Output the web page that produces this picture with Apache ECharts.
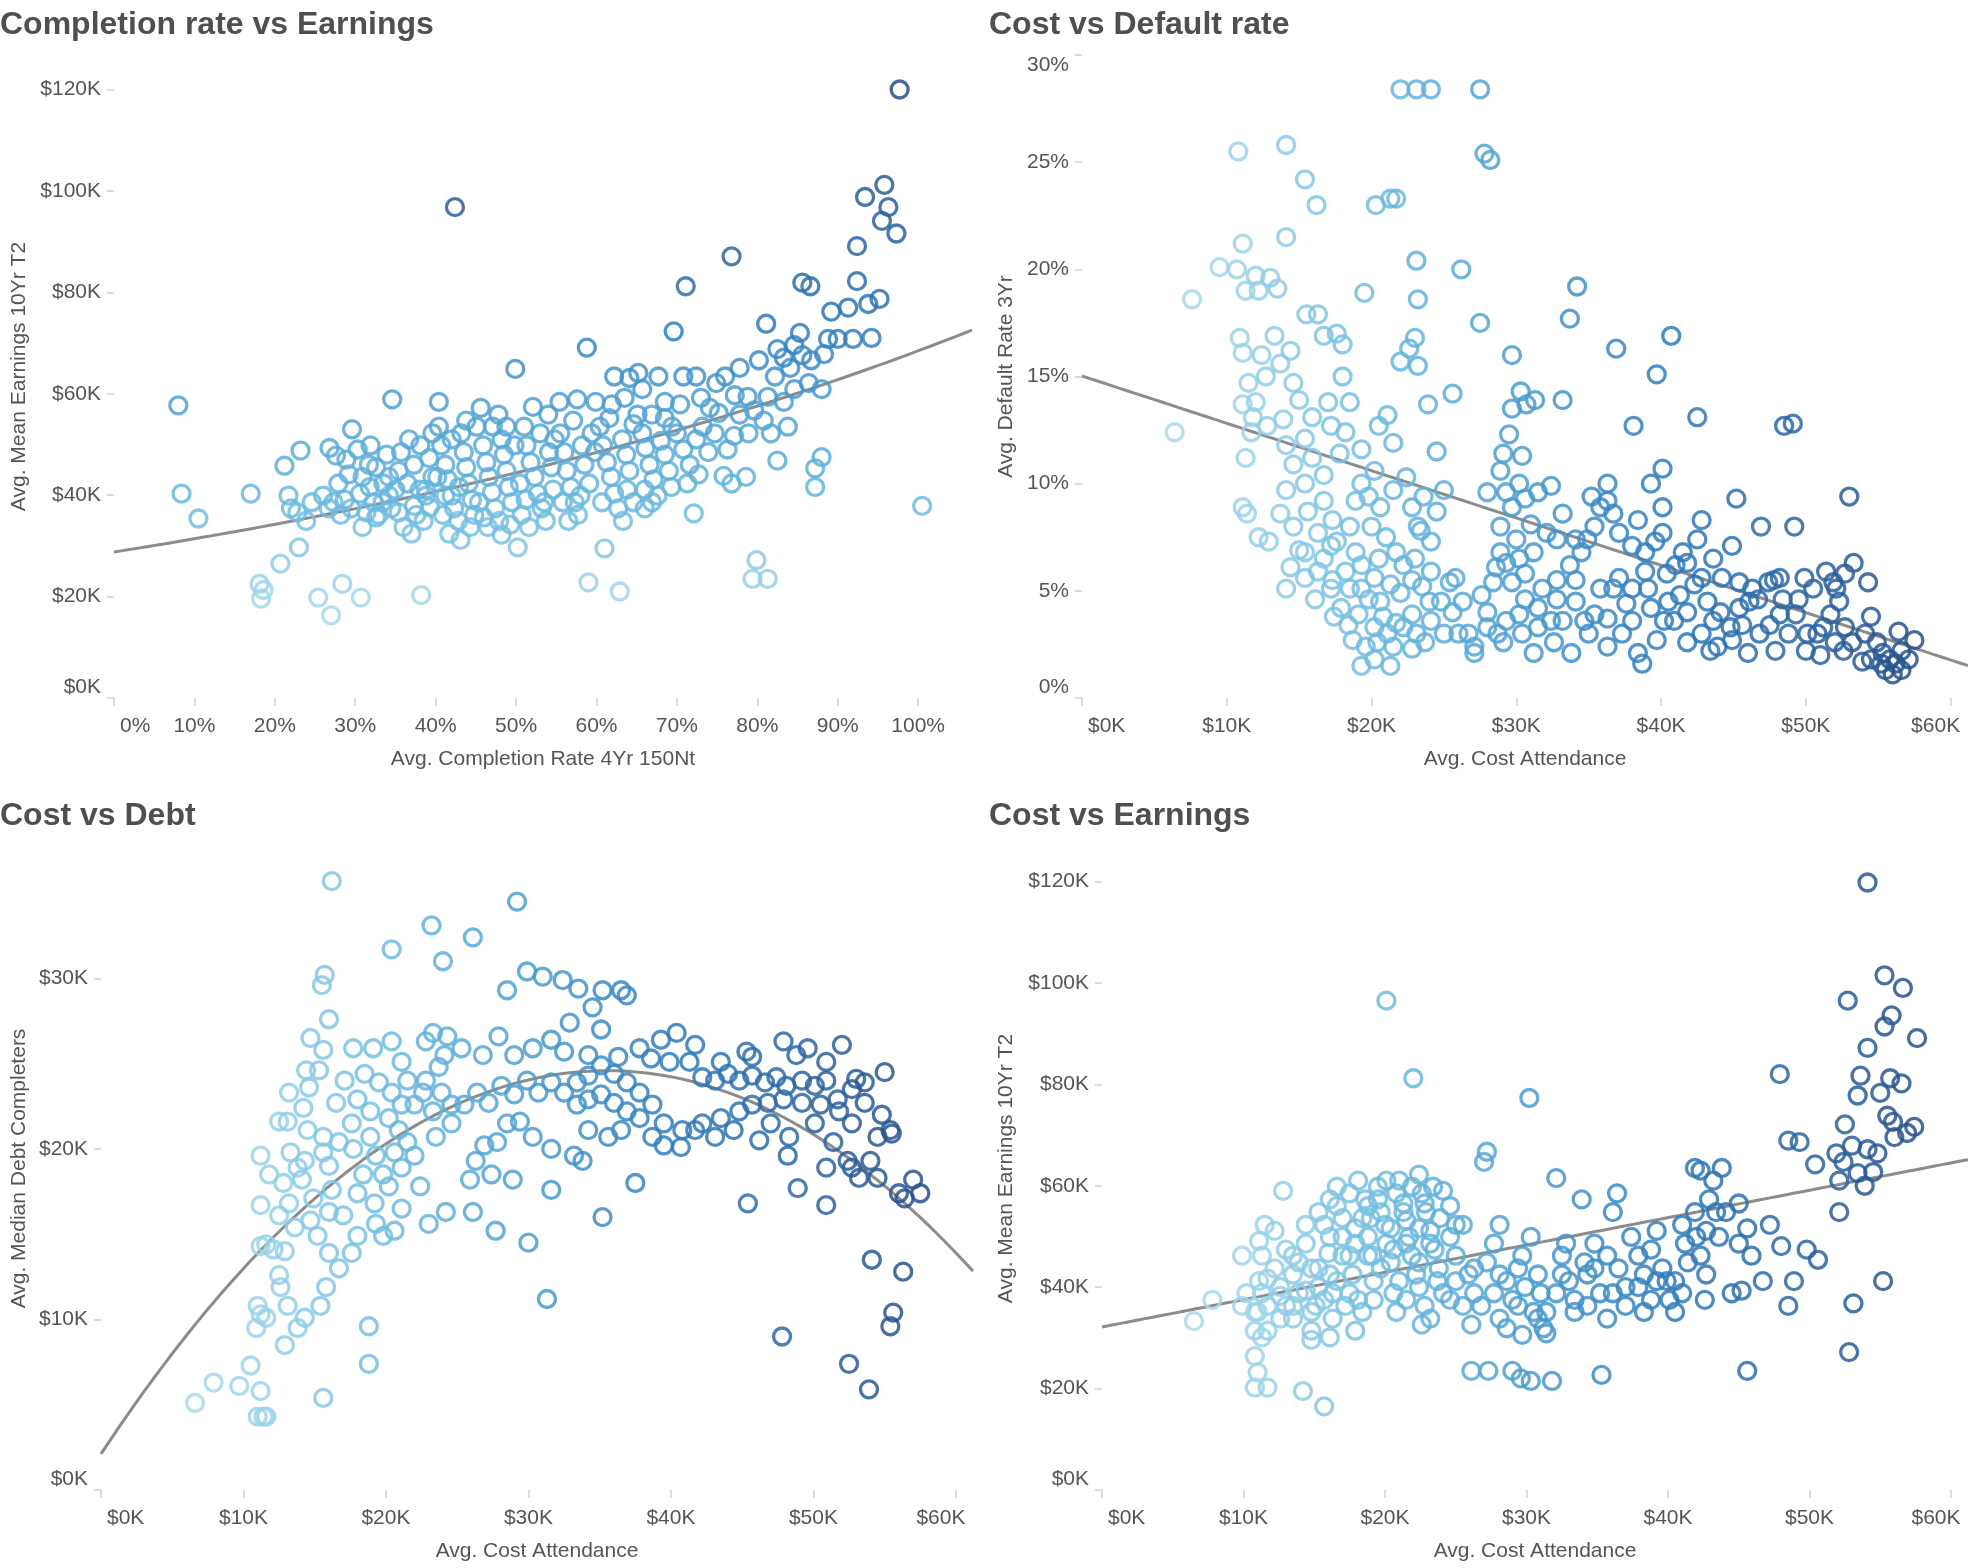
<!DOCTYPE html>
<html>
<head>
<meta charset="utf-8">
<title>Completion, cost, default, debt and earnings</title>
<script src="https://cdn.jsdelivr.net/npm/echarts@6/dist/echarts.min.js"></script>
<style>
  html, body { margin: 0; padding: 0; background: #fff; }
  #chart { width: 1968px; height: 1568px; }
</style>
</head>
<body>
<div id="chart"></div>
<script>
// values; units are % and $K

// [completion rate %, mean earnings $K]
const completionVsEarnings = [
  [8,57.7],[8.4,40.3],[10.5,35.4],
  [17,40.3],[18.1,22.5],[18.6,21.3],[18.3,19.6],
  [20.7,26.5],[21.2,45.8],[21.7,39.9],[22.8,36.6],[23.2,48.8],[23.9,34.9],[23,29.7],[22,37.4],[24.6,38.6],
  [25.4,19.8],[27,16.3],[28.4,22.5],[26.8,49.3],[27.6,47.8],[26,39.9],[26.7,37.4],[27.9,42.3],[28.7,39.1],[29.2,44.1],[29.6,53],[27.3,38.6],[29.5,37.4],[28.9,47],[28.2,36.1],
  [30.7,19.8],[34.6,58.9],[30.6,40.3],[30.9,43.6],[31.4,36.6],[31.8,41.6],[32.3,38.6],[32.6,45.5],[32.9,36.1],[33.5,42.3],[33.9,48],[34.2,39.9],[30.3,49],[31.9,49.8],[34.5,37.4],[33.4,38.6],[31.7,46],[32.6,35.6],[34.2,43.6],[35,41.1],[30.9,33.7],
  [38.2,20.3],[36.5,42.3],[35.7,48.5],[37.3,46],[38.1,49.8],[38.8,41.1],[39.3,37.6],[38.5,34.9],[35.4,36.6],[36,33.7],[37.3,37.9],[37,32.4],[39.6,43.6],[39.2,47.3],[38,41.1],[36.7,51],[35.4,44.8],[39.6,52.2],[38.8,39.9],[37.6,36.1],
  [40.4,58.4],[42.4,96.8],[43.1,31.2],[40.4,53.5],[40.7,49.8],[41.2,46],[41.5,43.1],[42,39.9],[42.3,37.4],[42.8,34.9],[41.7,32.4],[43.2,52.2],[43.5,48.5],[43.8,45.5],[44.1,42.3],[44.5,39.1],[44.8,36.1],[40.9,36.1],[42.9,41.6],[40.2,43.6],[43.8,54.7],[42,51],[44.3,33.7],[41.2,39.9],
  [48.2,32.2],[49.9,64.9],[45.1,53.5],[45.6,57.2],[45.9,49.8],[46.3,46.5],[46.6,43.6],[47,40.6],[47.4,37.4],[47.9,34.9],[48.2,51],[48.5,48],[48.8,44.8],[49.1,41.6],[49.5,38.6],[45.4,38.6],[46,35.6],[47.1,53.5],[47.8,55.9],[48.8,53.5],[49.8,49.8],[46.5,33.7],[49.3,34.2],
  [50.2,29.7],[51,53.5],[51.3,49.8],[51.8,46.5],[52.3,43.6],[52.7,40.3],[53.2,37.4],[53.7,34.9],[54.1,48.5],[54.4,45.5],[50.5,42.3],[51.2,39.1],[52.1,57.4],[54,55.9],[54.8,51],[53,52.2],[50.7,36.1],[51.6,33.7],[54.6,41.1],[53.5,38.6],
  [55.4,58.4],[57.6,58.9],[59,22.8],[58.8,69.1],[55.5,52.2],[56,48.5],[56.3,44.8],[56.8,41.6],[57.3,38.6],[57.7,36.1],[58.2,49.8],[58.5,46],[59.1,42.3],[59.4,52.2],[55.8,38.6],[57.1,54.7],[58,39.9],[59.8,48.5],[56.5,34.9],
  [59.9,58.4],[61,29.5],[62.9,21],[61.9,57.9],[63.5,59.2],[64.1,63.1],[60.4,53.5],[60.8,49.8],[61.3,46.5],[61.8,43.6],[62.2,40.3],[62.7,37.4],[63.2,51],[63.7,48],[64.1,44.8],[64.6,54],[61.6,55.2],[63.8,41.1],[60.7,38.6],[63.3,34.9],[64.6,38.6],[62.2,63.4],
  [65.1,55.9],[65.2,64.1],[66.9,55.9],[68.5,55.2],[69.6,72.3],[65.7,52.2],[66.1,49.3],[66.6,46],[67.1,43.1],[67.6,39.9],[68,50.7],[68.5,48],[69,44.8],[69.4,53.5],[66,41.1],[65.7,60.9],[67.7,63.4],[69.3,41.6],[66,37.4],[66.9,38.6],[68.5,58.4],
  [71.1,81.2],[72.1,36.4],[70.4,57.9],[70.8,63.4],[72.4,63.4],[73,59.2],[74.1,57.2],[70,52.2],[70.8,49],[71.6,46],[72.4,51],[73.2,53.5],[73.9,48.5],[71.3,42.3],[74.7,52.2],[72.7,44.1],
  [74.9,62.1],[76,63.4],[76.8,87.1],[75.2,56.2],[77.1,51.7],[77.8,65.1],[78.8,59.4],[78.9,52.2],[79.6,56.7],[75.8,43.8],[76.8,42.3],[78.6,43.6],[76.3,49],[77.8,55.9],[79.4,23.5],[79.9,27.2],[77.2,59.7],
  [80.2,66.6],[81.1,73.8],[81.3,23.5],[80.8,54.7],[81.3,59.4],[82.2,63.4],[82.5,68.8],[83.3,67.1],[84.1,65.1],[84.6,69.6],[84.6,60.9],[82.5,46.8],[81.7,52.2],[83.3,58.4],[83.8,53.5],
  [85.6,81.9],[86.6,81.2],[85.6,67.6],[86.7,66.6],[88.3,67.8],[88,47.5],[87.2,45.3],[87.2,41.6],[88.8,70.8],[89.2,76.2],[86.4,62.1],[85.3,72],[88,60.9],
  [90,70.8],[91.9,70.8],[94.2,71],[91.3,77],[93.8,77.7],[95.2,78.7],[92.4,82.2],[92.4,89.1],[93.4,98.8],[95.8,101.2],[96.3,96.8],[95.5,94.1],[97.3,91.6],[97.7,120],[100.5,37.9]
];

// [cost of attendance $K, 3yr default rate %]
const costVsDefault = [
  [22,28.4],[23.1,28.4],[24.1,28.4],[27.5,28.4],
  [27.8,25.4],[28.2,25.1],[10.8,25.5],[14.1,25.8],[15.4,24.2],[16.2,23],[14.1,21.5],[11.1,21.2],
  [20.3,23],[21.3,23.3],[21.7,23.3],[23.1,20.4],[26.2,20],[7.6,18.6],
  [9.5,20.1],[10.7,20],[12,19.7],[13,19.6],[13.5,19.1],[12.2,19],[11.3,19],
  [23.2,18.6],[19.5,18.9],[34.2,19.2],[27.5,17.5],[33.7,17.7],[36.9,16.3],[40.7,16.9],[39.7,15.1],[42.5,13.1],[49.1,12.8],[48.5,12.7],[38.1,12.7],
  [29.7,16],[30.3,14.3],[29.7,13.5],[30.7,13.7],[31.3,13.9],[33.2,13.9],[29.5,12.3],[29.1,11.4],[30.4,11.3],
  [25.6,14.2],[23.9,13.7],[22.6,16.3],[23,16.8],[23.2,15.5],[22,15.7],
  [18,16.5],[17.6,17],[16.7,16.9],[15.5,17.9],[16.3,17.9],
  [10.9,16.8],[11.1,16.1],[12.4,16],[11.5,14.7],[12.7,15],[12,13.8],[11.8,13.1],[11.1,13.7],[11.7,12.4],[12.8,12.7],[11.3,11.2],[11.1,8.9],[11.4,8.6],[12.2,7.5],[12.9,7.3],[6.4,12.4],[13.7,15.6],[13.3,16.9],[14.4,16.2],[14.6,14.7],
  [13.9,13],[15,13.9],[15.9,13.1],[15.4,12.1],[14.1,11.8],[14.6,10.9],[15.9,11.2],[17.2,12.7],[17,13.8],[18,15],[18.5,13.8],[18.2,12.4],[19.3,11.6],[17.8,11.4],[16.7,10.4],[15.4,10],[14.1,9.7],[13.7,8.6],[14.6,8],[15.6,8.7],[16.7,9.2],[17.3,8.3],[16.3,7.7],[15,6.9],[14.4,6.1],[15.4,5.6],[16.7,6.5],[17.6,7.3],[18.5,8],[18.9,9.2],[19.3,10],[20.2,10.6],[19.8,9.4],[20.6,8.9],[21.5,9.7],[20,8],[21,7.5],[18.9,6.8],[18.2,5.9],[17.2,5.1],[16.1,4.6],[17.4,3.8],[18.4,3.4],[19.3,5.1],[20.2,5.6],[19.8,4.6],[20.6,4.5],[21.3,5.3],[22,4.9],[20.8,3.8],[21.7,3.5],[19.6,2.4],[19.3,1.5],[21.3,1.5],[20.4,2.6],[22.8,2.3],[22.8,3.9],[24,4.5],[23.5,5.2],[22.2,6.2],[23,6.5],[24.1,7.3],[23.2,8],[22.8,8.9],[23.6,9.4],[22.4,10.3],[21.5,11.9],[20.5,12.7],[21.1,13.2],[24.5,11.5],[25,9.7],[24.5,8.7],[23.4,7.8],[25.4,5.4],[25.8,5.6],[25.6,4],[26,3],[26.7,3],[27.1,2.4],[28,3.3],[28.7,3],[29.3,3.6],[27.1,2.1],
  [15.4,6.8],[16.3,5.9],[17.3,5.5],[18.5,5.1],[17.9,4.2],[19.1,3.9],[20.2,3.3],[21.1,3],[22.2,3.3],[23.1,3],[24.1,3.6],[24.8,4.5],[25,3],[23.7,2.6],[21.5,2.4],[20.2,1.8],[18.7,2.7],[19.3,6.2],[20.5,6.5],[21.7,6.8],[22.8,5.5],[24.1,5.9],[26.3,4.5],[27.6,4.8],[28.4,5.4],[28,4],[17.2,7.1],[14.1,5.1],
  [28.9,10.6],[28,9.6],[29.3,9.6],[30.2,10],[30.6,9.3],[31.5,9.6],[32.4,9.9],[29.7,8.9],[28.9,8],[30,7.4],[31,8.1],[32.1,7.7],[33.2,8.6],[32.8,7.4],[28.9,6.8],[29.3,6.3],[28.6,6.1],[30.2,6.5],[31.2,6.8],[30.6,5.8],[29.7,5.4],[31.8,5.1],[32.8,5.5],[33.7,6.2],[34.5,6.8],[34.9,7.4],[35.4,8],[35.8,8.9],[35.2,9.4],[36.3,9.2],[36.7,8.6],[37.1,7.7],[38,7.1],[38.9,6.8],[38.4,8.3],[36.3,10],[40.1,8.9],[40.1,10.7],[39.3,10],[34.1,7.4],[32.4,3.6],[31.5,3.3],[30.2,3.9],[30.6,4.6],[33.8,2.1],[34.7,3.6],[35.4,3.9],[36.3,3.7],[35.8,5.1],[36.7,5.1],[37.1,5.6],[37.6,4.4],[38.4,2.1],[38.7,1.6],[39.7,2.7],[39.3,4.2],[40.5,4.5],[41.3,4.8],[41.8,4],[40.9,3.6],[39.1,5.1],[40.4,5.8],[41,6.2],[41.8,6.3],[42.3,5.3],[42.8,5.6],[43.2,4.5],[43.6,3.6],[44.1,4],[44.8,3.3],[45.4,4.2],[45.6,3.4],[44.9,2.7],[43.4,2.2],[41.8,2.6],[46,2.1],[46.8,3],[47.5,3.4],[47.9,2.2],[48.2,3.9],[48.8,3],[50,2.2],[50.8,3],[49.3,3.9],[45.4,5.4],[46.3,5.1],[47.4,5.4],[48.2,5.6],[44.9,7.1],[42.5,7.4],[41.5,6.8],[43.6,6.5],[44.2,5.6],[45.2,9.3],[46.9,8],[42.8,8.3],[40.1,7.7],[38.9,5.9],[39.6,7.3],
  [29.1,2.6],[30.4,3],[31.2,2.1],[32.6,2.6],[33.2,3.6],[34.1,4.5],[35,3],[36.3,2.4],[37.3,3],[38,3.6],[34.1,5.5],[32.8,4.6],[31.5,4.2],[38,5.1],[40.2,3.6],[42.8,3],[43.9,2.4],
  [53,9.4],[51.4,5.9],[51.9,5.4],[52.1,5.1],[52.3,4.5],[52.7,5.8],[53.3,6.3],[54.3,5.4],[51.7,3.9],[52.7,3.3],[52,2.6],[53.2,2.6],[52.6,2.2],[54.5,3.8],[54.1,3],[54.9,2.6],[55.3,2.1],[55.8,1.8],[56.2,1.6],[55.2,1.6],[54.5,1.8],[55.5,1.3],[56,1.1],[56.6,1.3],[57.1,1.8],[56.6,2.2],[57.5,2.7],[56.4,3.1],[53.9,1.7],[51,2],[50.1,3],[51.2,3.3],[49.5,4.6],[48.4,4.6],[50.5,5.1],[49.9,5.6],[49.2,8],[47.8,5.5],[46.7,4.6],[46.1,4.5]
];

// [cost of attendance $K, median debt of completers $K]
const costVsDebt = [
  [16.2,35.7],[29.2,34.5],[23.2,33.1],[26.1,32.4],[24,31],[20.4,31.7],[15.7,30.2],[15.5,29.6],
  [28.5,29.3],[29.9,30.4],[31,30.1],[32.4,29.9],[33.5,29.4],[34.5,28.3],[36.5,29.3],[36.9,29],[35.2,29.3],
  [40.4,26.8],[52,26.1],[45.3,25.7],[48.8,25.5],[55,24.5],[53,24.1],[52.7,23.5],[53.6,22.7],[54.8,22],[55.4,21.1],[55.5,20.9],[54,19.3],[52.4,19.3],[53.2,18.3],[54.5,18.3],[56,17.4],[56.4,17.1],[57.5,17.4],[57,18.2],[50.9,16.7],[48.9,17.7],[48.2,19.6],[46.2,20.5],[45.4,16.8],[54.1,13.5],[56.3,12.8],[55.6,10.4],[55.4,9.6],[52.5,7.4],[53.9,5.9],[47.8,9],[31.3,11.2],[35.2,16],[37.5,18],
  [42.2,24.2],[43.1,24],[44,24.4],[44.8,24],[45.7,24.3],[46.6,23.9],[47.4,24.2],[48.1,23.7],[49.2,24],[50.1,23.7],[50.9,24],[51.7,22.9],[50.5,22.6],[49.2,22.7],[47.9,22.9],[46.8,22.7],[45.7,22.6],[44.8,22.2],[43.5,21.8],[42.2,21.5],[40.8,21.1],[39.5,21.5],[38.7,22.6],[37.8,23.3],[36.9,23.9],[36,24.4],[35.1,24.9],[34.2,24.3],[33.4,23.9],[32.5,23.3],[31.6,23.9],[30.7,23.3],[29.9,24],[29,23.2],[28.1,23.7],[27.2,22.7],[26.4,23.3],[25.5,22.6],[33.4,22.6],[34.2,22.9],[35.1,23.2],[36,22.7],[36.9,22.2],[37.8,21.8],[38.7,20.7],[39.5,20.2],[40.7,20.1],[41.7,21.1],[43.1,20.7],[44.4,21.1],[36.5,21.1],[35.6,20.7],[34.2,21.1],[33.2,19.6],[33.8,19.3],[31.6,20],[30.3,20.7],[29.4,21.6],[28.5,21.5],[27.8,20.4],[26.9,20.2],[26.3,19.3],[25.9,18.2],[27.4,18.5],[28.9,18.2],[27.7,15.2],[26.1,16.3],[31.6,17.6],[30,14.5],[39.9,25.1],[38.6,25.3],[41.3,25.1],[43.5,25.1],[45.7,25.4],[36.3,25.4],[34.2,25.5],[32.5,25.7],[31.6,26.4],[30.3,25.9],[29,25.5],[27.9,26.6],[26.8,25.5],[25.3,25.9],[24.3,26.6],[23.3,26.8],[22.8,26.3],[24.1,25.5],[23.7,24.8],[32.9,27.4],[35.1,27],[37.8,25.9],[39.3,26.4],[41.7,26.1],[47.9,26.3],[49.6,25.9],[50.9,25.1],[53.6,23.9],[51.8,22.2],[52.7,21.5],[54.5,20.7],[50.1,21.5],[48.3,20.7],[47,21.5],[50.9,18.9],[52.7,18.9],[51.4,20.4],
  [6.6,5.1],[7.9,6.3],[9.7,6.1],[10.5,7.3],[11.2,5.8],[11,4.3],[11.4,4.3],[11.6,4.3],[15.6,5.4],[12.9,8.5],[13.8,9.5],[14.3,10.1],[13.1,10.8],[11,10.8],[11.2,10.3],[11.6,10.1],[10.9,9.5],[11.2,14.3],[11.6,14.4],[12.1,14.1],[12.5,12.6],[12.6,11.9],[12.9,14],[15.8,11.9],[15.4,10.8],[16.7,13],[16,13.9],[17.6,13.9],[18,14.9],[18.8,9.6],[18.8,7.4],[12.8,18],[13.2,16.8],[14.1,18.2],[13.8,18.9],[13.3,19.8],[13.1,21.6],[14.2,22.4],[14.4,24.6],[15.3,24.6],[15.6,25.8],[14.6,23.6],[15.6,20.7],[15.6,19.8],[16,19],[16.2,17.6],[16,16.3],[17,16.1],[14.9,17.1],[14.7,15.8],[16.5,22.7],[17.1,24],[17.7,25.9],[18.5,24.4],[18,22.9],[18.9,22.2],[17.6,21.5],[16.7,20.4],[17.7,20],[18.9,20.7],[19.3,19.6],[19.8,18.5],[20.2,17.8],[18.4,18.5],[18,17.4],[19.2,16.8],[19.3,15.6],[19.5,23.9],[20.4,23.3],[20.2,21.8],[21.1,22.6],[20.9,21.1],[21.5,20.4],[20.6,19.8],[21.1,18.9],[22,19.6],[21.5,24],[22,22.6],[22.6,23.3],[23.3,22.2],[22.8,24],[23.9,23.3],[24.6,22.6],[23.5,20.7],[24.6,21.5],[22.4,17.8],[23,15.6],[24.2,16.3],[20.6,15.2],[19.8,14.9],[21.1,16.5],[11.2,19.6],[11.8,18.5],[11.2,16.7],[12.5,21.6],[13.2,23.3],[14.5,21.1],[14.3,19.3],[12.5,16.1],[15.2,14.9],[13.6,15.4],
  [19.1,25.9],[20.4,26.3],[21.1,25.1],[14.7,26.5],[16,27.6]
];

// [cost of attendance $K, mean earnings $K]
const costVsEarnings = [
  [54.1,119.8],[52.7,96.5],[20.1,96.5],[22,81.2],[30.2,77.3],
  [55.3,101.5],[56.6,99],[55.8,93.6],[55.3,91.4],[57.6,89.1],[54.1,87.2],[53.6,81.7],[55.7,81.2],[56.5,80.2],[53.4,77.8],[55,78.3],[47.9,82],[48.5,68.9],[49.3,68.6],[50.4,64.2],[52.5,72.1],[53,67.9],[51.9,66.4],[52.4,64.7],[54.1,67.2],[54.8,66.4],[55.9,72.6],[56,69.6],[56.9,70.4],[57.4,71.6],[55.5,73.8],[52.1,61],[53.4,62.5],[54.5,62.7],[53.9,60],[52.1,54.8],[53.1,36.8],[52.8,27.2],[55.2,41.2],[48.5,36.3],[50.6,45.4],[49.8,47.4],[48,48.1],[48.9,41.2],[46.7,41.2],[45.6,23.5],[45.2,39.3],[45.9,46.2],[47.2,52.3],[45.6,51.6],[45,48.6],[44.1,54.8],[45,56.5],[43.6,49.9],[43.2,61],[42.3,63],
  [10.8,35.1],[11.3,38.8],[11.7,36.3],[11.1,41.2],[11.3,46.2],[11.1,49.1],[10.8,26.4],[11,23.2],[10.8,20.2],[11.7,20.2],[9.9,36.3],[7.8,37.5],[6.5,33.3],[14.2,19.5],[15.7,16.5],[12.8,59],[11.5,52.3],[12.2,43.7],[12.6,40],[13,36.3],[13.5,46.2],[13.5,42.5],[13.9,38.8],[14.4,48.6],[14.8,43.7],[15.3,40],[15.1,36.3],[16,46.7],[16.1,42.5],[16.3,38.8],[15.7,52.3],[16.6,56],[17,49.9],[17.5,46.2],[17.7,42.5],[17.2,36.3],[16.1,30.1],[16.3,33.8],[17.9,31.4],[18.1,37.5],[18.4,53.6],[18.6,57.3],[18.8,49.9],[19.1,46.2],[19.2,41.2],[19.5,59.8],[19.7,54.8],[20,52.3],[20.1,48.6],[20.4,44.9],[20.6,38.8],[20.8,35.1],[21,61],[21.3,56.5],[21.5,53.1],[21.7,49.9],[21.9,46.2],[22.2,42.5],[22.4,62.2],[22.6,58.5],[22.9,54.8],[23.2,51.1],[23.5,47.4],[23.8,43.7],[22.8,36.3],[22.6,32.6],[23.2,33.8],[24.1,38.8],[24.1,59],[24.6,49.9],[25,46.2],[25.5,52.3],[25.9,42.5],[26.3,38.8],[26.1,32.6],[26.8,36.3],[27,64.7],[27.2,66.7],[27.2,44.9],[27.7,48.6],[28.1,52.3],[28.6,41.2],[28.1,33.8],[29,37.5],[29.4,43.7],[29.7,46.2],[29.9,40],[30.3,49.9],[30.8,42.5],[31,38.8],[31.2,31.9],[30.5,35.1],[32.1,61.5],[32.5,46.2],[32.8,48.6],[33,41.2],[33.4,37.5],[33.9,57.3],[34.1,44.9],[34.3,42.5],[34.8,48.6],[35.2,38.8],[35.3,22.7],[35.7,46.2],[36.1,54.8],[36.4,58.5],[36.5,43.7],[37,40],[37.4,49.9],[37.9,46.2],[38.3,42.5],[38.8,47.4],[39.2,51.1],[39.6,43.7],[39.9,41.2],[40.1,37.5],[40.5,35.1],[41,52.3],[41.2,48.6],[41.4,44.9],[41.9,54.8],[42,49.9],[42.3,46.2],[42.7,51.1],[42.9,57.3],[43.4,54.8],[43.8,63.5],[41.9,63.5],[42.7,42.5],[29,23.5],[29.6,22],[30.3,21.5],[31.8,21.5],[26.1,23.5],[27.3,23.5],[28.6,31.9],[29.7,30.6],[31.4,35.1],[9.9,46.2],[10.8,31.4],[11.7,31.4],[13.5,33.8],[14.8,31.4],[14.8,29.6],[44.5,38.8],[42.6,37.5],
  [11.7,41.7],[12.6,38.3],[13.5,36.3],[14.4,39.3],[14.8,35.1],[15.7,37.5],[15.3,43.7],[12.6,33.8],[11.3,30.1],[16.6,41.2],[17.5,38.8],[18.4,35.1],[19.2,37.5],[19.7,43.7],[21,41.2],[21.5,37.5],[22.4,40],[23.7,41.2],[24.6,37.5],[25.5,36.3],[25,41.2],[26.3,43.7],[27.7,38.8],[28.1,42.5],[29.4,36.3],[30.8,33.8],[32.1,38.8],[32.5,42.5],[33.4,35.1],[34.3,36.3],[34.8,43.7],[36.1,38.8],[37,36.3],[37.9,40],[38.8,37.5],[39.2,41.2],[40.5,41.2],[41,38.8],[38.3,35.1],[35.7,33.8],[31.4,30.9],[18.8,46.2],[17,46.2],[17.9,48.6],[20.6,47.4],[22.4,44.9],[23.2,48.6],[16.1,49.9],[13.9,44.9],[13,47.4],[12.2,51.1],[10.2,38.8],[11,35.1],
  [16.6,59.8],[17.5,58.5],[18.1,61],[18.8,56],[19.5,57.3],[20.1,61],[20.8,58.5],[21.3,54.8],[21.9,59.8],[22.8,56.5],[23.4,59.8],[23.9,53.6],[17,53.6],[17.9,51.6],[19,53.6],[20.4,51.6],[21.5,48.6],[22.4,51.6],[16.1,57.3],[15.3,54.8],[14.4,52.3],[24.6,56],[25,52.3]
];

// tick values
const earningsTicks = [0, 20, 40, 60, 80, 100, 120];
const completionTicks = [0, 10, 20, 30, 40, 50, 60, 70, 80, 90, 100];
const defaultTicks = [0, 5, 10, 15, 20, 25, 30];
const costTicks = [0, 10, 20, 30, 40, 50, 60];
const debtTicks = [0, 10, 20, 30];

const FONT = '"Liberation Sans", Arial, Helvetica, sans-serif';
const TEXT = '#555555';
const TICK = '#d0d0d0';

// colour ramp keyed on cost of attendance ($K)
const costColors = [[0,'#bcdfe6'],[10,'#a1d6ea'],[20,'#6fbce0'],[30,'#4b9dd0'],[40,'#2f7dbd'],[50,'#2b64a0'],[58,'#27508a']];
// panel 1 has no cost field, so shade by earnings instead
const earningsShade = [[15,6],[25,13],[35,19],[45,24],[60,30],[75,42],[90,50],[120,58]];

function interp(stops, v) {
  if (v <= stops[0][0]) return stops[0][1];
  for (let i = 1; i < stops.length; i++) {
    if (v <= stops[i][0]) {
      const t = (v - stops[i - 1][0]) / (stops[i][0] - stops[i - 1][0]);
      return stops[i - 1][1] + t * (stops[i][1] - stops[i - 1][1]);
    }
  }
  return stops[stops.length - 1][1];
}

function hexRgb(h) {
  return [parseInt(h.slice(1, 3), 16), parseInt(h.slice(3, 5), 16), parseInt(h.slice(5, 7), 16)];
}

function costColor(v) {
  const s = costColors;
  let a = s[0], b = s[0];
  if (v >= s[s.length - 1][0]) { a = b = s[s.length - 1]; }
  else {
    for (let i = 1; i < s.length; i++) {
      if (v <= s[i][0]) { a = s[i - 1]; b = s[i]; break; }
    }
  }
  const t = a === b ? 0 : Math.max(0, (v - a[0]) / (b[0] - a[0]));
  const ca = hexRgb(a[1]), cb = hexRgb(b[1]);
  const c = ca.map((x, k) => Math.round(x + t * (cb[k] - x)));
  return 'rgb(' + c.join(',') + ')';
}

// trend fits
function linearFit(pts) {
  let n = pts.length, sx = 0, sy = 0, sxx = 0, sxy = 0;
  pts.forEach(p => { sx += p[0]; sy += p[1]; sxx += p[0] * p[0]; sxy += p[0] * p[1]; });
  const b = (n * sxy - sx * sy) / (n * sxx - sx * sx);
  const a = (sy - b * sx) / n;
  return x => a + b * x;
}

function expFit(pts) {
  const f = linearFit(pts.map(p => [p[0], Math.log(p[1])]));
  return x => Math.exp(f(x));
}

function quadFit(pts) {
  const S = [0, 0, 0, 0, 0], T = [0, 0, 0];
  pts.forEach(p => {
    for (let k = 0; k < 5; k++) S[k] += Math.pow(p[0], k);
    for (let k = 0; k < 3; k++) T[k] += p[1] * Math.pow(p[0], k);
  });
  const M = [[S[0], S[1], S[2]], [S[1], S[2], S[3]], [S[2], S[3], S[4]]];
  const det = m => m[0][0] * (m[1][1] * m[2][2] - m[1][2] * m[2][1])
    - m[0][1] * (m[1][0] * m[2][2] - m[1][2] * m[2][0])
    + m[0][2] * (m[1][0] * m[2][1] - m[1][1] * m[2][0]);
  const D = det(M);
  const coef = [0, 1, 2].map(c => det(M.map((row, r) => row.map((v, j) => (j === c ? T[r] : v)))) / D);
  return x => coef[0] + coef[1] * x + coef[2] * x * x;
}

function trendLine(fn, xmax) {
  const out = [];
  for (let i = 0; i <= 100; i++) {
    const x = xmax * i / 100;
    out.push([x, fn(x)]);
  }
  return out;
}

function scatterData(pts, shadeOf) {
  return pts
    .map(p => ({ v: shadeOf(p), p: p }))
    .sort((a, b) => a.v - b.v)
    .map(o => ({ value: o.p, itemStyle: { borderColor: costColor(o.v) } }));
}

const money = v => '$' + v + 'K';
const pct = v => v + '%';

const edgeRich = {
  first: { padding: [0, 0, 0, 6], fontSize: 21, color: TEXT, fontFamily: FONT },
  last: { padding: [0, 30, 0, 0], fontSize: 21, color: TEXT, fontFamily: FONT }
};

function xAxisFor(grid, max, ticks, fmt, name, lastInside) {
  return {
    type: 'value', gridIndex: grid, min: 0, max: max, offset: 3,
    name: name, nameLocation: 'middle', nameGap: 48,
    nameTextStyle: { fontSize: 21, color: TEXT, fontFamily: FONT },
    axisLine: { show: false },
    splitLine: { show: false },
    axisTick: { show: true, length: 8, customValues: ticks, lineStyle: { color: TICK, width: 1.5 } },
    axisLabel: {
      customValues: ticks, margin: 15, fontSize: 21, color: TEXT, fontFamily: FONT,
      alignMinLabel: 'left', rich: edgeRich,
      formatter: v => {
        const s = fmt(v);
        if (v === ticks[0]) return '{first|' + s + '}';
        if (lastInside && v === ticks[ticks.length - 1]) return '{last|' + s + '}';
        return s;
      }
    }
  };
}

function yAxisFor(grid, max, ticks, fmt, name, gap, topLabel) {
  const label = {
    customValues: ticks, margin: 13, fontSize: 21, color: TEXT, fontFamily: FONT,
    formatter: fmt, verticalAlignMinLabel: 'bottom'
  };
  if (topLabel) label.verticalAlignMaxLabel = 'top';
  return {
    type: 'value', gridIndex: grid, min: 0, max: max,
    name: name, nameLocation: 'middle', nameRotate: 90, nameGap: gap,
    nameTextStyle: { fontSize: 21, color: TEXT, fontFamily: FONT },
    axisLine: { show: false },
    splitLine: { show: false },
    axisTick: { show: true, length: 7, customValues: ticks, lineStyle: { color: TICK, width: 1.5 } },
    axisLabel: label
  };
}

const xMax = [106.7, 61.2, 61.2, 61.2];
const yMax = [126.8, 30, 37.7, 126.8];

const panels = [
  { pts: completionVsEarnings, fit: expFit, shade: p => interp(earningsShade, p[1]) },
  { pts: costVsDefault, fit: linearFit, shade: p => p[0] },
  { pts: costVsDebt, fit: quadFit, shade: p => p[0] },
  { pts: costVsEarnings, fit: linearFit, shade: p => p[0] }
];

const series = [];
panels.forEach((pn, i) => {
  series.push({
    type: 'line', xAxisIndex: i, yAxisIndex: i, z: 2, silent: true,
    showSymbol: false, symbol: 'none',
    lineStyle: { color: '#8c8c8c', width: 3 },
    data: trendLine(pn.fit(pn.pts), xMax[i])
  });
  series.push({
    type: 'scatter', xAxisIndex: i, yAxisIndex: i, z: 3,
    symbol: 'circle', symbolSize: 17,
    itemStyle: { color: 'rgba(255,255,255,0)', borderWidth: 3.3, opacity: 0.85 },
    emphasis: { disabled: true },
    data: scatterData(pn.pts, pn.shade)
  });
});

const titleStyle = { fontSize: 32, fontWeight: 'bold', color: '#4f4f4f', fontFamily: FONT };

const option = {
  animation: false,
  backgroundColor: '#ffffff',
  textStyle: { fontFamily: FONT },
  title: [
    { text: 'Completion rate vs Earnings', left: 0, top: 9, padding: 0, textStyle: titleStyle },
    { text: 'Cost vs Default rate', left: 989, top: 9, padding: 0, textStyle: titleStyle },
    { text: 'Cost vs Debt', left: 0, top: 800, padding: 0, textStyle: titleStyle },
    { text: 'Cost vs Earnings', left: 989, top: 800, padding: 0, textStyle: titleStyle }
  ],
  grid: [
    { left: 114, top: 55, width: 858, height: 643 },
    { left: 1082, top: 55, width: 886, height: 643 },
    { left: 101, top: 847, width: 872, height: 643 },
    { left: 1102, top: 847, width: 866, height: 643 }
  ],
  xAxis: [
    xAxisFor(0, xMax[0], completionTicks, pct, 'Avg. Completion Rate 4Yr 150Nt', false),
    xAxisFor(1, xMax[1], costTicks, money, 'Avg. Cost Attendance', true),
    xAxisFor(2, xMax[2], costTicks, money, 'Avg. Cost Attendance', true),
    xAxisFor(3, xMax[3], costTicks, money, 'Avg. Cost Attendance', true)
  ],
  yAxis: [
    yAxisFor(0, yMax[0], earningsTicks, money, 'Avg. Mean Earnings 10Yr T2', 84, false),
    yAxisFor(1, yMax[1], defaultTicks, pct, 'Avg. Default Rate 3Yr', 65, true),
    yAxisFor(2, yMax[2], debtTicks, money, 'Avg. Median Debt Completers', 71, false),
    yAxisFor(3, yMax[3], earningsTicks, money, 'Avg. Mean Earnings 10Yr T2', 85, false)
  ],
  series: series
};

const chart = echarts.init(document.getElementById('chart'), null, { renderer: 'canvas' });
chart.setOption(option);
</script>
</body>
</html>
